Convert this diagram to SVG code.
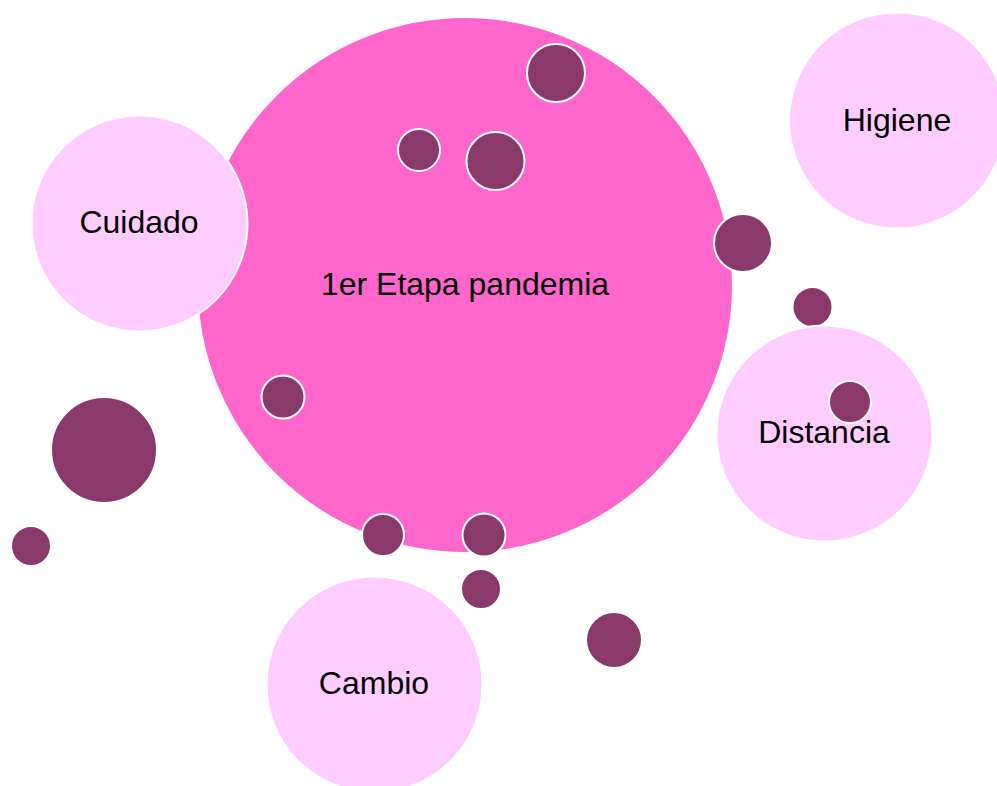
<svg xmlns="http://www.w3.org/2000/svg" width="997" height="786" viewBox="0 0 997 786">
<style>
.main{fill:#FF66CC;stroke:#FFFFFF;stroke-width:2}
.topic{fill:#FFCCFF;stroke:#FFFFFF;stroke-width:2}
.dot{fill:#8A3A6A;stroke:#FFFFFF;stroke-width:2}
.lbl{font-family:"Liberation Sans",Arial,sans-serif;font-size:32px;fill:#000000;text-anchor:middle}
</style>
<rect width="997" height="786" fill="#FFFFFF"/>
<g id="connectors"></g>
<g id="bg-dots">
<circle class="dot" cx="104" cy="450" r="53"/>
<circle class="dot" cx="31" cy="546" r="20"/>
<circle class="dot" cx="812.5" cy="307" r="20"/>
<circle class="dot" cx="481" cy="589" r="20"/>
<circle class="dot" cx="614" cy="640" r="28"/>
</g>
<g id="node-main">
<circle class="main" cx="465" cy="285" r="268"/>
<text class="lbl" x="465" y="295">1er Etapa pandemia</text>
</g>
<g id="node-cuidado">
<circle class="topic" cx="139.5" cy="223.5" r="108"/>
<text class="lbl" x="139" y="233">Cuidado</text>
</g>
<g id="node-higiene">
<circle class="topic" cx="897" cy="120.5" r="108"/>
<text class="lbl" x="897" y="131">Higiene</text>
</g>
<g id="node-distancia">
<circle class="topic" cx="824.5" cy="433.5" r="108"/>
<text class="lbl" x="824" y="443">Distancia</text>
</g>
<g id="node-cambio">
<circle class="topic" cx="374.5" cy="684.5" r="108"/>
<text class="lbl" x="374" y="694">Cambio</text>
</g>
<g id="fg-dots">
<circle class="dot" cx="556" cy="73" r="29"/>
<circle class="dot" cx="419" cy="150" r="21"/>
<circle class="dot" cx="495.5" cy="161" r="29"/>
<circle class="dot" cx="743" cy="243" r="29"/>
<circle class="dot" cx="850" cy="402" r="21"/>
<circle class="dot" cx="283" cy="397" r="21.5"/>
<circle class="dot" cx="383" cy="535" r="21"/>
<circle class="dot" cx="484" cy="535" r="21.5"/>
</g>
</svg>
